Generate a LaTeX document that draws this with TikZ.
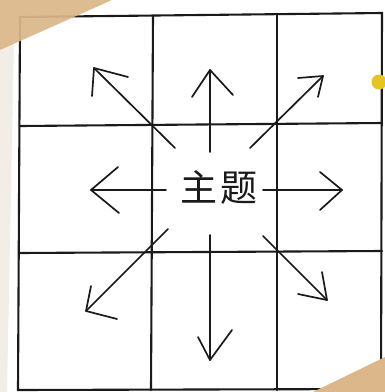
\documentclass[tikz,border=0pt]{standalone}
\usepackage{fontspec}
\newfontfamily\cjk{Noto Sans CJK SC}
\definecolor{tan}{HTML}{DCB78A}
\definecolor{strip}{HTML}{F2EEE7}
\definecolor{dot}{HTML}{E6C522}
\definecolor{ink}{HTML}{1A1A1A}
\begin{document}
\begin{tikzpicture}[x=1pt,y=-1pt,
  gridline/.style={draw=ink,line width=2.1pt,line cap=round},
  arrowline/.style={draw=ink,line width=1.7pt,line cap=round,line join=round},
  label/.style={font=\cjk\fontsize{37}{37}\selectfont,text=ink,inner sep=0pt}]
\useasboundingbox (0,0) rectangle (385,392);
\fill[white] (0,0) rectangle (385,392);
\fill[strip] (0,40) -- (14,40) -- (7,392) -- (0,392) -- cycle;
% grid corners and crossings
\coordinate (tl) at (20,17);
\coordinate (tr) at (382,13);
\coordinate (bl) at (18,390);
\coordinate (br) at (381,389);
\coordinate (v1t) at (153,16);
\coordinate (v1b) at (151,390);
\coordinate (v2t) at (277,14);
\coordinate (v2b) at (277,390);
\coordinate (h1l) at (20,126);
\coordinate (h1r) at (382,123);
\coordinate (h2l) at (19,253);
\coordinate (h2r) at (382,251);
\draw[gridline] (tl) -- (tr) -- (br) -- (bl) -- cycle;
\draw[gridline] (v1t) -- (v1b);
\draw[gridline] (v2t) -- (v2b);
\draw[gridline] (h1l) -- (h1r);
\draw[gridline] (h2l) -- (h2r);
% centre label
\node[label] (t) at (219,187) {主\hspace{4pt}题};
% arrows: tail, tip, barbs
\coordinate (uT) at (210,152); \coordinate (uP) at (210,70);
\coordinate (uA) at (192,97); \coordinate (uB) at (233,95);
\coordinate (urT) at (250,148); \coordinate (urP) at (323,76);
\coordinate (urA) at (298,78); \coordinate (urB) at (318,97);
\coordinate (ulT) at (175,148); \coordinate (ulP) at (94,68);
\coordinate (ulA) at (128,77); \coordinate (ulB) at (92,96);
\coordinate (lT) at (166,190); \coordinate (lP) at (91,190);
\coordinate (lA) at (118,167); \coordinate (lB) at (119,213);
\coordinate (rT) at (263,190); \coordinate (rP) at (342,190);
\coordinate (rA) at (320,172); \coordinate (rB) at (320,210);
\coordinate (dlT) at (168,229); \coordinate (dlP) at (86,311);
\coordinate (dlA) at (91,286); \coordinate (dlB) at (117,319);
\coordinate (dT) at (210,235); \coordinate (dP) at (210,360);
\coordinate (dA) at (198,337); \coordinate (dB) at (232,330);
\coordinate (drT) at (263,236); \coordinate (drP) at (327,300);
\coordinate (drA) at (298,294); \coordinate (drB) at (322,272);
\foreach \a in {u,ur,ul,l,r,dl,d,dr}{
  \draw[arrowline] (\a T) -- (\a P);
  \draw[arrowline] (\a A) -- (\a P) -- (\a B);
}
% paper corners
\fill[tan,opacity=0.93] (0,0) -- (112,0) -- (0,50) -- cycle;
\fill[tan] (313,392) -- (385,357) -- (385,392) -- cycle;
% yellow dot
\fill[dot] (379,82) circle (7.5);
\end{tikzpicture}
\end{document}
